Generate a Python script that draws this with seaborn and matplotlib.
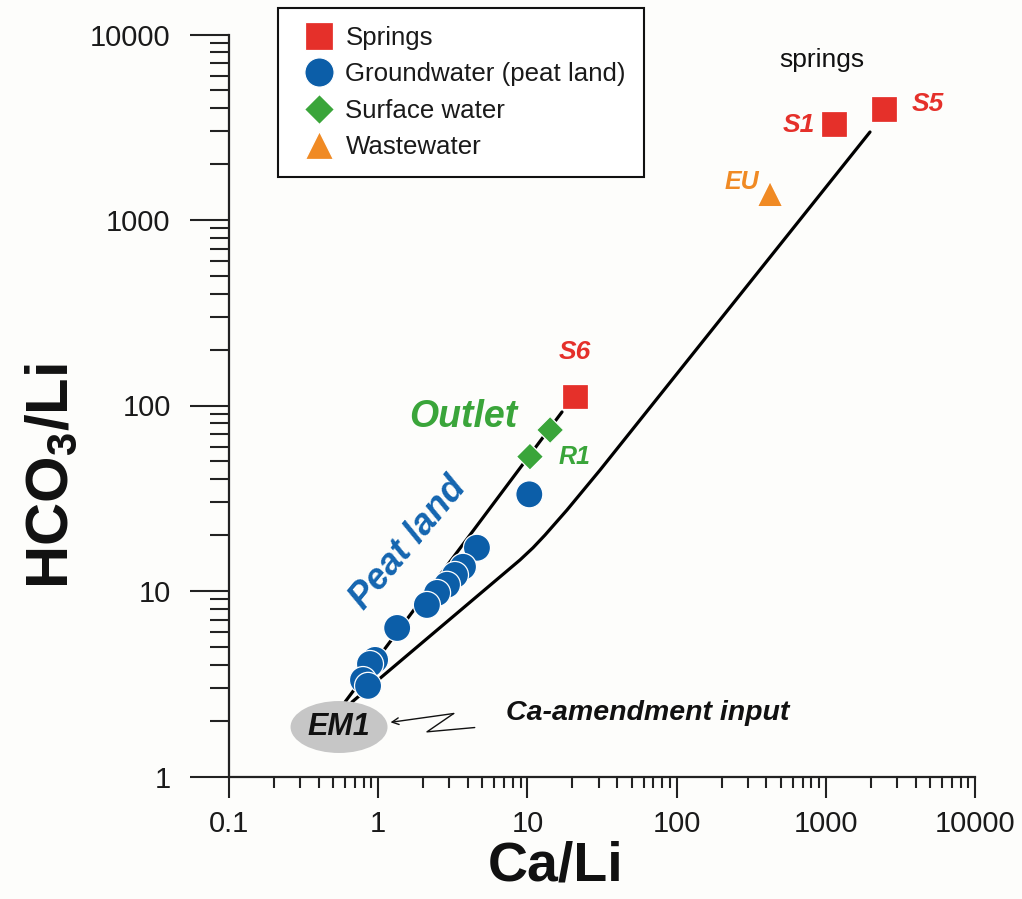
import numpy as np
import pandas as pd
import matplotlib
matplotlib.use('Agg')
import matplotlib.pyplot as plt
import seaborn as sns
from matplotlib.patches import Ellipse
from matplotlib.ticker import FixedLocator, FixedFormatter, LogLocator, NullFormatter

# ---------------- data ----------------
categories = ['Springs', 'Groundwater (peat land)', 'Surface water', 'Wastewater']

springs_x = [20.8, 1135, 2455]
springs_y = [112, 3293, 3966]

gw_x = [10.3, 4.59, 3.70, 3.27, 2.89, 2.48, 2.12, 1.34, 0.953, 0.881, 0.791, 0.855]
gw_y = [33.2, 17.1, 13.5, 12.2, 10.8, 9.76, 8.41, 6.32, 4.25, 4.04, 3.31, 3.08]

sw_x = [10.4, 14.2]
sw_y = [53.0, 73.8]

ww_x = [423]
ww_y = [1380]

upper_x = [0.599, 17.06]
upper_y = [2.52, 92.3]

lower_x = [0.667, 8.92, 10.9, 13.1, 18.4, 30.7, 1978]
lower_y = [2.52, 14.7, 17.1, 20.0, 27.3, 44.9, 2981]

xticks = [0.1, 1, 10, 100, 1000, 10000]
xtick_labels = ['0.1', '1', '10', '100', '1000', '10000']
yticks = [1, 10, 100, 1000, 10000]
ytick_labels = ['1', '10', '100', '1000', '10000']

# ---------------- style ----------------
sns.set_style('ticks')
plt.rcParams['font.family'] = ['Liberation Sans', 'DejaVu Sans']
plt.rcParams['mathtext.fontset'] = 'custom'
plt.rcParams['mathtext.rm'] = 'Liberation Sans'
plt.rcParams['mathtext.bf'] = 'Liberation Sans:bold'
plt.rcParams['mathtext.it'] = 'Liberation Sans:italic'

RED = '#e5302a'
BLUE = '#0c5ea8'
GREEN = '#3aa53a'
ORANGE = '#f08a24'
BG = '#fdfdfb'

palette = {categories[0]: RED, categories[1]: BLUE, categories[2]: GREEN, categories[3]: ORANGE}
markers = {categories[0]: 's', categories[1]: 'o', categories[2]: 'D', categories[3]: '^'}
sizes = {categories[0]: 340, categories[1]: 380, categories[2]: 190, categories[3]: 330}

df = pd.concat([
    pd.DataFrame({'x': springs_x, 'y': springs_y, 'type': categories[0]}),
    pd.DataFrame({'x': gw_x, 'y': gw_y, 'type': categories[1]}),
    pd.DataFrame({'x': sw_x, 'y': sw_y, 'type': categories[2]}),
    pd.DataFrame({'x': ww_x, 'y': ww_y, 'type': categories[3]}),
], ignore_index=True)

fig = plt.figure(figsize=(10.22, 8.99), dpi=100, facecolor=BG)
ax = fig.add_axes([229 / 1022, 1 - 776.5 / 899, 746 / 1022, 742 / 899])
ax.set_facecolor(BG)
ax.set_xscale('log')
ax.set_yscale('log')

# mixing lines
sns.lineplot(x=upper_x, y=upper_y, sort=False, estimator=None, color='black',
             lw=2.3, ax=ax, zorder=2)
sns.lineplot(x=lower_x, y=lower_y, sort=False, estimator=None, color='black',
             lw=2.3, ax=ax, zorder=2)

# EM1 end-member ellipse
ax.add_patch(Ellipse((0.1475, 0.0667), 0.130, 0.070, transform=ax.transAxes,
                     facecolor='#c6c6c6', edgecolor='none', zorder=3))

sns.scatterplot(data=df, x='x', y='y', hue='type', style='type', size='type',
                palette=palette, markers=markers, sizes=sizes,
                hue_order=categories, style_order=categories, size_order=categories,
                edgecolor='white', linewidth=0.9, zorder=4, ax=ax, legend='full',
                clip_on=False)

ax.set_xlim(0.1, 10000)
ax.set_ylim(1, 10000)

# axes / ticks
sns.despine(ax=ax)
for sp in ['left', 'bottom']:
    ax.spines[sp].set_linewidth(1.6)
    ax.spines[sp].set_color('#222222')

ax.xaxis.set_major_locator(FixedLocator(xticks))
ax.xaxis.set_major_formatter(FixedFormatter(xtick_labels))
ax.yaxis.set_major_locator(FixedLocator(yticks))
ax.yaxis.set_major_formatter(FixedFormatter(ytick_labels))
ax.xaxis.set_minor_locator(LogLocator(base=10, subs=np.arange(2, 10)))
ax.yaxis.set_minor_locator(LogLocator(base=10, subs=np.arange(2, 10)))
ax.xaxis.set_minor_formatter(NullFormatter())
ax.yaxis.set_minor_formatter(NullFormatter())

ax.tick_params(axis='x', which='major', length=15, width=1.5, pad=9, labelsize=21,
               color='#222222', labelcolor='#1a1a1a', direction='out')
ax.tick_params(axis='x', which='minor', length=8, width=1.5, color='#222222', direction='out')
ax.tick_params(axis='y', which='major', length=28, width=1.5, pad=14, labelsize=21,
               color='#222222', labelcolor='#1a1a1a', direction='out')
ax.tick_params(axis='y', which='minor', length=14, width=1.5, color='#222222', direction='out')

ax.set_xlabel('Ca/Li', fontsize=40, fontweight='bold', color='#111111')
ax.xaxis.set_label_coords(0.438, -0.121)
ax.xaxis.label.set_va('center')
ax.set_ylabel(r'HCO$_\mathbf{3}$/Li', fontsize=43, fontweight='bold', color='#111111')
ax.yaxis.set_label_coords(-0.238, 0.405)
ax.yaxis.label.set_va('center')

# legend
handles, labels = ax.get_legend_handles_labels()
hl = [(h, l) for h, l in zip(handles, labels) if l in categories]
leg = ax.legend([h for h, _ in hl], [l for _, l in hl],
                loc='upper left', bbox_to_anchor=(278 / 1022, 1 - 8 / 899),
                bbox_transform=fig.transFigure, borderaxespad=0,
                fontsize=18.6, frameon=True, fancybox=False, shadow=False,
                borderpad=0.7, handlelength=1.75, handletextpad=0.16,
                labelspacing=0.48, markerscale=1.08)
leg.get_frame().set_edgecolor('#111111')
leg.get_frame().set_linewidth(1.5)
leg.get_frame().set_facecolor('white')
leg.get_frame().set_alpha(1)
for t in leg.get_texts():
    t.set_color('#1a1a1a')

# annotations (axes-fraction positions)
bi = dict(fontweight='bold', fontstyle='italic', ha='center', va='center',
          transform=ax.transAxes)
ax.text(0.795, 0.9656, 'springs', fontsize=19, color='#111111', ha='center',
        va='center', transform=ax.transAxes)
ax.text(0.764, 0.878, 'S1', fontsize=19, color=RED, **bi)
ax.text(0.937, 0.906, 'S5', fontsize=19, color=RED, **bi)
ax.text(0.687, 0.801, 'EU', fontsize=18, color=ORANGE, **bi)
ax.text(0.4638, 0.572, 'S6', fontsize=19, color=RED, **bi)
ax.text(0.4638, 0.4306, 'R1', fontsize=18, color=GREEN, **bi)
ax.text(0.3137, 0.4845, 'Outlet', fontsize=27, color=GREEN, **bi)
ax.text(0.2400, 0.3140, 'Peat land', fontsize=26, color='#1465b0', rotation=50,
        rotation_mode='anchor', **bi)
ax.text(0.5617, 0.0856, 'Ca-amendment input', fontsize=20.5, color='#111111', **bi)
ax.text(0.1475, 0.0667, 'EM1', fontsize=22, color='#111111', zorder=5, **bi)

# zig-zag pointer to EM1
ax.plot([0.3294, 0.2654, 0.3012], [0.0660, 0.0602, 0.0849], color='#111111',
        lw=1.0, transform=ax.transAxes, clip_on=False)
ax.annotate('', xy=(0.2165, 0.0730), xytext=(0.3012, 0.0849),
            xycoords='axes fraction', textcoords='axes fraction',
            arrowprops=dict(arrowstyle='->', color='#111111', lw=1.0,
                            shrinkA=0, shrinkB=0, mutation_scale=12))

fig.savefig('out.png', dpi=100, facecolor=BG)
